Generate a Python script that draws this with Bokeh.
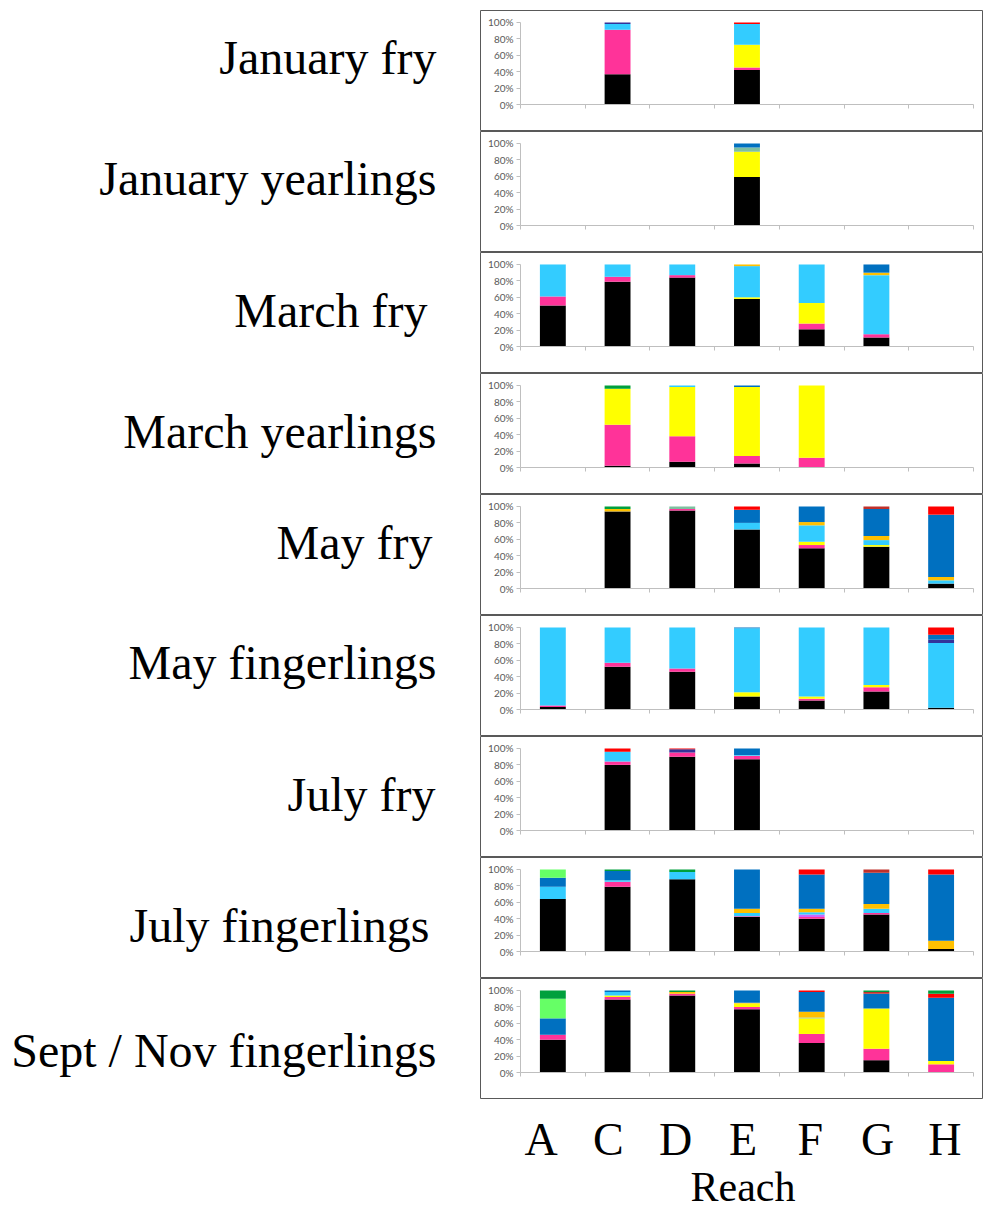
from bokeh.plotting import figure
from bokeh.layouts import column, row
from bokeh.models import (Range1d, FixedTicker, LinearAxis, PrintfTickFormatter,
                          CustomJSTickFormatter, Label, FactorRange, Spacer, ColumnDataSource)
from bokeh.embed import file_html
from bokeh.resources import INLINE
from bokeh.core.properties import value

# ---------------- data ----------------
reaches = ["A", "C", "D", "E", "F", "G", "H"]

panel_labels = ["January fry", "January yearlings", "March fry", "March yearlings",
                "May fry", "May fingerlings", "July fry", "July fingerlings",
                "Sept / Nov fingerlings"]

series_names = ["black", "pink", "lavender", "yellow", "lightblue", "teal", "gold",
                "indigo", "blue", "red", "brown", "lightgreen", "green"]
series_colors = ["#000000", "#FF3399", "#CC66FF", "#FFFF00", "#33CCFF", "#7FBF9F", "#FFC000",
                 "#333399", "#0070C0", "#FF0000", "#C0302B", "#66FF66", "#00A03C"]

#                 A   C   D   E   F   G   H
jan_fry = {
    "black":     [0, 37, 0, 42, 0, 0, 0],
    "pink":      [0, 54, 0, 3, 0, 0, 0],
    "yellow":    [0, 0, 0, 28, 0, 0, 0],
    "lightblue": [0, 7, 0, 25, 0, 0, 0],
    "indigo":    [0, 2, 0, 0, 0, 0, 0],
    "red":       [0, 0, 0, 2, 0, 0, 0],
}
jan_yearlings = {
    "black":     [0, 0, 0, 59, 0, 0, 0],
    "yellow":    [0, 0, 0, 31, 0, 0, 0],
    "teal":      [0, 0, 0, 5, 0, 0, 0],
    "blue":      [0, 0, 0, 5, 0, 0, 0],
}
mar_fry = {
    "black":     [50, 79, 84, 58, 21, 11, 0],
    "pink":      [11, 6, 3, 0, 7, 4, 0],
    "yellow":    [0, 0, 0, 2, 25, 0, 0],
    "lightblue": [39, 15, 13, 38, 47, 72, 0],
    "gold":      [0, 0, 0, 2, 0, 3, 0],
    "blue":      [0, 0, 0, 0, 0, 10, 0],
}
mar_yearlings = {
    "black":     [0, 2, 7, 5, 0, 0, 0],
    "pink":      [0, 50, 31, 9, 12, 0, 0],
    "yellow":    [0, 44, 60, 84, 88, 0, 0],
    "lightblue": [0, 0, 2, 0, 0, 0, 0],
    "blue":      [0, 0, 0, 2, 0, 0, 0],
    "green":     [0, 4, 0, 0, 0, 0, 0],
}
may_fry = {
    "black":     [0, 94, 95, 72, 49, 51, 6],
    "pink":      [0, 0, 2, 0, 4, 0, 0],
    "yellow":    [0, 0, 0, 0, 4, 2, 0],
    "lightblue": [0, 0, 0, 8, 20, 6, 4],
    "teal":      [0, 0, 3, 0, 0, 0, 0],
    "gold":      [0, 3, 0, 0, 4, 5, 4],
    "blue":      [0, 0, 0, 16, 19, 33, 76],
    "red":       [0, 0, 0, 4, 0, 0, 10],
    "brown":     [0, 0, 0, 0, 0, 3, 0],
    "green":     [0, 3, 0, 0, 0, 0, 0],
}
may_fingerlings = {
    "black":     [3, 52, 46, 16, 11, 22, 2],
    "pink":      [2, 5, 4, 0, 2, 5, 0],
    "yellow":    [0, 0, 0, 5, 3, 3, 0],
    "lightblue": [95, 43, 50, 78, 84, 70, 79],
    "indigo":    [0, 0, 0, 0, 0, 0, 4],
    "blue":      [0, 0, 0, 1, 0, 0, 6],
    "red":       [0, 0, 0, 0, 0, 0, 9],
}
jul_fry = {
    "black":     [0, 80, 90, 87, 0, 0, 0],
    "pink":      [0, 4, 5, 4, 0, 0, 0],
    "lightblue": [0, 12, 0, 1, 0, 0, 0],
    "indigo":    [0, 0, 4, 0, 0, 0, 0],
    "blue":      [0, 0, 0, 8, 0, 0, 0],
    "red":       [0, 4, 1, 0, 0, 0, 0],
}
jul_fingerlings = {
    "black":      [64, 79, 88, 42, 40, 45, 3],
    "pink":       [0, 6, 0, 1, 2, 2, 0],
    "lavender":   [0, 0, 0, 0, 3, 0, 0],
    "lightblue":  [15, 2, 9, 4, 3, 5, 0],
    "gold":       [0, 0, 0, 5, 4, 6, 10],
    "blue":       [11, 11, 0, 48, 42, 38, 81],
    "red":        [0, 0, 0, 0, 6, 0, 6],
    "brown":      [0, 0, 0, 0, 0, 4, 0],
    "lightgreen": [10, 0, 0, 0, 0, 0, 0],
    "green":      [0, 2, 3, 0, 0, 0, 0],
}
sep_nov_fingerlings = {
    "black":      [40, 89, 94, 77, 36, 15, 0],
    "pink":       [6, 3, 2, 3, 11, 14, 10],
    "yellow":     [0, 2, 0, 4, 19, 49, 4],
    "lightblue":  [0, 4, 0, 0, 0, 0, 0],
    "teal":       [0, 0, 0, 0, 1, 0, 0],
    "gold":       [0, 0, 2, 1, 7, 0, 0],
    "blue":       [20, 2, 0, 15, 24, 18, 77],
    "red":        [0, 0, 0, 0, 2, 0, 5],
    "brown":      [0, 0, 0, 0, 0, 2, 0],
    "lightgreen": [24, 0, 0, 0, 0, 0, 0],
    "green":      [10, 0, 2, 0, 0, 2, 4],
}

panels = [jan_fry, jan_yearlings, mar_fry, mar_yearlings, may_fry, may_fingerlings,
          jul_fry, jul_fingerlings, sep_nov_fingerlings]

y_ticks = [0, 20, 40, 60, 80, 100]
x_title = "Reach"

# ---------------- layout / style ----------------
SERIF = "Liberation Serif"
TICK_FONT = "Lato"
PANEL_H = 121
CHART_W = 503
LABEL_W = 480
TOP_GAP = 10
BOTTOM_H = 111
# vertical anchor (px from panel top) and right edge of each row label
label_offsets = [47, 47, 58, 58, 48, 47, 58, 68, 72]
label_rights = [436, 436, 427, 436, 432, 436, 435, 429, 436]


def make_label(text, off, right):
    p = figure(width=LABEL_W, height=PANEL_H, x_range=Range1d(0, LABEL_W),
               y_range=Range1d(0, PANEL_H), min_border=0, toolbar_location=None,
               output_backend="svg", x_axis_type=None, y_axis_type=None)
    p.outline_line_color = None
    p.add_layout(Label(x=right, y=PANEL_H - off, text=text, text_align="right",
                       text_baseline="alphabetic", text_font=SERIF,
                       text_font_size="48px", text_color="#000000"))
    return p


def make_chart(data):
    n = len(reaches)
    p = figure(width=CHART_W, height=PANEL_H, x_range=Range1d(-0.618, n + 0.155),
               y_range=Range1d(-32.9, 114.6), min_border=0, toolbar_location=None,
               output_backend="svg", x_axis_type=None, y_axis_type=None)
    p.outline_line_color = "#595959"
    p.outline_line_width = 1
    present = [s for s in series_names if s in data]
    src = {"x": [i + 0.5 for i in range(n)], "reach": reaches}
    for s in present:
        src[s] = data[s]
    p.vbar_stack(present, x="x", width=0.4, source=ColumnDataSource(src),
                 fill_color=[series_colors[series_names.index(s)] for s in present],
                 line_color=None)

    yax = LinearAxis(fixed_location=0, bounds=(0, 100), ticker=FixedTicker(ticks=y_ticks),
                     formatter=PrintfTickFormatter(format="%d%%"))
    yax.axis_line_color = "#BFBFBF"
    yax.major_tick_line_color = "#BFBFBF"
    yax.major_tick_in = 0
    yax.major_tick_out = 4
    yax.minor_tick_line_color = None
    yax.major_label_text_font = TICK_FONT
    yax.major_label_text_font_size = "10px"
    yax.major_label_text_color = "#595959"
    yax.major_label_standoff = 3
    p.add_layout(yax, "left")

    xax = LinearAxis(fixed_location=0, bounds=(0, n), ticker=FixedTicker(ticks=list(range(n + 1))),
                     formatter=CustomJSTickFormatter(code="return ''"))
    xax.axis_line_color = "#BFBFBF"
    xax.major_tick_line_color = "#BFBFBF"
    xax.major_tick_in = 0
    xax.major_tick_out = 4
    xax.minor_tick_line_color = None
    p.add_layout(xax, "below")
    return p


rows = [Spacer(width=10, height=TOP_GAP)]
for lab, off, right, data in zip(panel_labels, label_offsets, label_rights, panels):
    rows.append(row(make_label(lab, off, right), make_chart(data)))

pb = figure(width=CHART_W, height=BOTTOM_H, x_range=FactorRange(*reaches),
            y_range=Range1d(0, BOTTOM_H), min_border=0, min_border_left=27, min_border_right=5,
            toolbar_location=None, output_backend="svg", x_axis_type=None, y_axis_type=None)
pb.outline_line_color = None
pb.text(x=reaches, y=71, text=reaches, text_align="center", text_baseline="alphabetic",
        text_font=value(SERIF), text_font_size=value("46px"), text_color="#000000")
# title centred under the middle category (centre of the factor range)
pb.text(x=[reaches[len(reaches) // 2]], y=[24], text=[x_title], text_align="center",
        text_baseline="alphabetic", text_font=value(SERIF), text_font_size=value("42px"),
        text_color="#000000")

rows.append(row(Spacer(width=LABEL_W, height=BOTTOM_H), pb))

layout = column(*rows)
open("out.html", "w").write(file_html(layout, INLINE))
